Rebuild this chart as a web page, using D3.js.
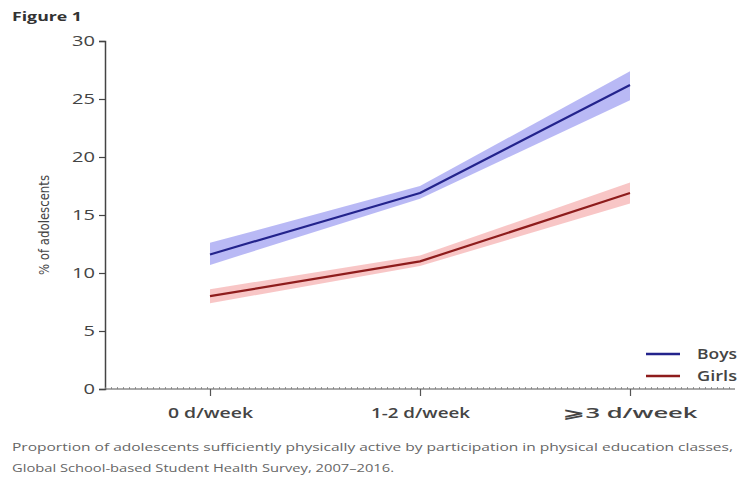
<!DOCTYPE html>
<html>
<head>
<meta charset="utf-8">
<script src="https://cdn.jsdelivr.net/npm/d3@7"></script>
<style>
  body { margin: 0; background: #fff; }
  text { font-family: "Open Sans", "Noto Sans", sans-serif; }
</style>
</head>
<body>
<div id="chart"></div>
<script>
// data
const categories = ["0 d/week", "1-2 d/week", "⩾3 d/week"];
const boys = [11.6, 16.9, 26.2];
const boysLow = [10.7, 16.4, 24.9];
const boysHigh = [12.6, 17.5, 27.4];
const girls = [8.0, 11.0, 16.9];
const girlsLow = [7.4, 10.6, 16.0];
const girlsHigh = [8.6, 11.5, 17.8];
const yTicks = [0, 5, 10, 15, 20, 25, 30];
const seriesNames = ["Boys", "Girls"];

const width = 740, height = 477;
const margin = { top: 41, right: 5, bottom: 88, left: 105 };

const svg = d3.select("#chart").append("svg")
  .attr("width", width)
  .attr("height", height);

const x = d3.scalePoint().domain(categories)
  .range([margin.left, width - margin.right]).padding(0.5);
const y = d3.scaleLinear().domain([0, 30])
  .range([height - margin.bottom, margin.top]);

// the original figure is stretched sideways, so texts get a fixed length
function stretch(sel, len) {
  sel.attr("textLength", len).attr("lengthAdjust", "spacingAndGlyphs");
}

// title
svg.append("text")
  .attr("x", 12).attr("y", 21)
  .style("font-size", "13px").style("font-weight", "bold")
  .attr("fill", "#333")
  .text("Figure 1")
  .call(stretch, 70);

// y axis
const yAxis = svg.append("g")
  .attr("transform", `translate(${margin.left},0)`)
  .call(d3.axisLeft(y).tickValues(yTicks).tickSize(6).tickPadding(4));
yAxis.select(".domain").attr("stroke", "#444").attr("stroke-width", 1.5);
yAxis.selectAll(".tick line").attr("stroke", "#444").attr("stroke-width", 1.2);
yAxis.selectAll(".tick text")
  .style("font-size", "15px").attr("fill", "#444")
  .each(function (d) {
    d3.select(this).call(stretch, String(d).length * 11.5);
  });

svg.append("text")
  .attr("transform", `translate(49,${(y(0) + y(30)) / 2 + 10}) rotate(-90)`)
  .attr("text-anchor", "middle")
  .style("font-size", "14px")
  .style("font-family", "'Liberation Sans Narrow', 'DejaVu Sans Condensed', sans-serif")
  .attr("fill", "#444")
  .text("% of adolescents")
  .call(stretch, 100);

// x axis (dotted style line)
const x0 = y(0);
svg.append("line")
  .attr("x1", margin.left).attr("x2", width - 5)
  .attr("y1", x0).attr("y2", x0)
  .attr("stroke", "#555").attr("stroke-width", 1.2);
svg.append("line")
  .attr("x1", margin.left).attr("x2", width - 5)
  .attr("y1", x0 - 1).attr("y2", x0 - 1)
  .attr("stroke", "#777").attr("stroke-width", 1.5)
  .attr("stroke-dasharray", "1,5");

const xLabelWidths = [85, 99, 134];
const xAxis = svg.append("g")
  .attr("transform", `translate(0,${x0})`)
  .call(d3.axisBottom(x).tickSize(7).tickPadding(12));
xAxis.select(".domain").remove();
xAxis.selectAll(".tick line").attr("stroke", "#555").attr("stroke-width", 1.2);
xAxis.selectAll(".tick text")
  .style("font-size", "14px").style("font-weight", "600")
  .attr("fill", "#444")
  .each(function (d, i) {
    d3.select(this).call(stretch, xLabelWidths[i]);
  });

// bands and lines
const series = [
  { name: "Boys", mid: boys, lo: boysLow, hi: boysHigh, line: "#23238c", fill: "#a8a8f2" },
  { name: "Girls", mid: girls, lo: girlsLow, hi: girlsHigh, line: "#8e1c1c", fill: "#f6b8b8" }
];

const area = d3.area()
  .x((d, i) => x(categories[i]))
  .y0(d => y(d[0]))
  .y1(d => y(d[1]));

const line = d3.line()
  .x((d, i) => x(categories[i]))
  .y(d => y(d));

series.forEach(s => {
  svg.append("path")
    .datum(s.lo.map((v, i) => [v, s.hi[i]]))
    .attr("d", area)
    .attr("fill", s.fill)
    .attr("opacity", 0.8);
  svg.append("path")
    .datum(s.mid)
    .attr("d", line)
    .attr("fill", "none")
    .attr("stroke", s.line)
    .attr("stroke-width", 2.2)
    .attr("stroke-linejoin", "round");
});

// legend
const legend = svg.append("g");
seriesNames.forEach((name, i) => {
  const s = series[i];
  const ly = 354 + i * 22;
  legend.append("line")
    .attr("x1", 646).attr("x2", 680)
    .attr("y1", ly).attr("y2", ly)
    .attr("stroke", s.line).attr("stroke-width", 2.5);
  legend.append("text")
    .attr("x", 697).attr("y", ly + 5)
    .style("font-size", "14px").style("font-weight", "600")
    .attr("fill", "#444")
    .text(name)
    .call(stretch, 40);
});

// caption
svg.append("text")
  .attr("x", 12).attr("y", 451)
  .style("font-size", "11.5px").attr("fill", "#666")
  .text("Proportion of adolescents sufficiently physically active by participation in physical education classes,")
  .call(stretch, 721);
svg.append("text")
  .attr("x", 12).attr("y", 472)
  .style("font-size", "11.5px").attr("fill", "#666")
  .text("Global School-based Student Health Survey, 2007–2016.")
  .call(stretch, 382);
</script>
</body>
</html>
